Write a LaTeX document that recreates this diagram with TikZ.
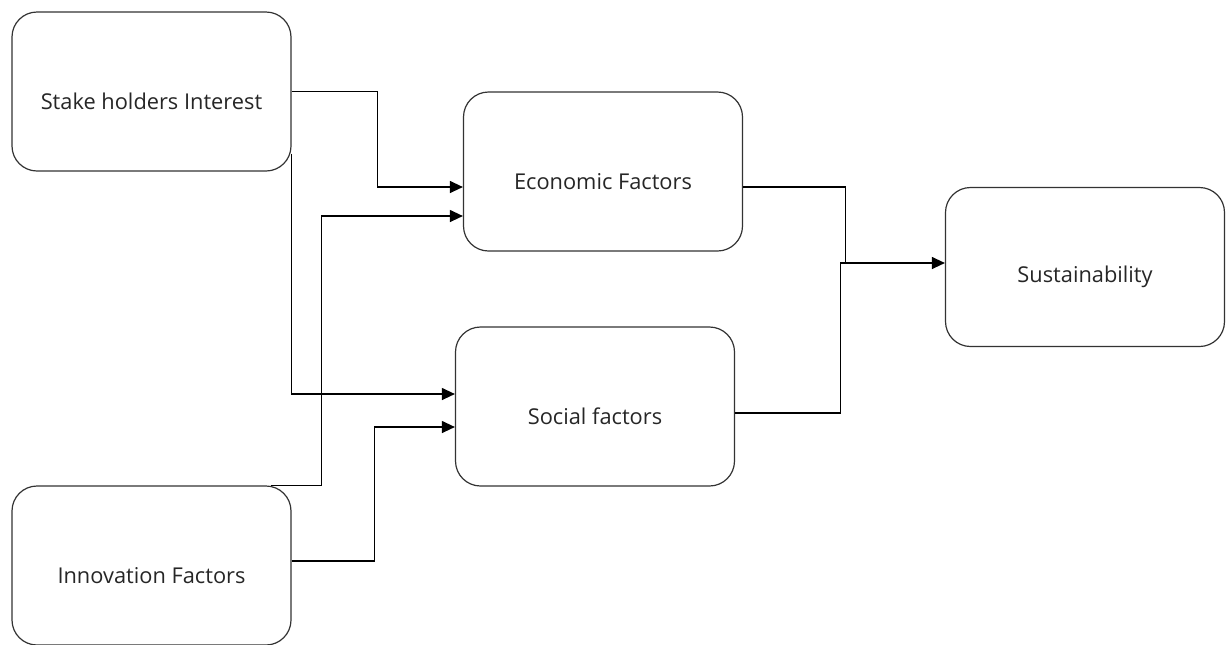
\documentclass[tikz,border=0pt]{standalone}
\usepackage{fontspec}
\setmainfont{Open Sans}
\usepackage{tikz}
\usetikzlibrary{arrows.meta,calc,positioning}
\tikzset{
  caja/.style={draw=black!80,line width=0.6pt,rounded corners=12.5pt,minimum width=139.5pt,minimum height=79.5pt},
  txt/.style={yshift=-5pt,text=black!85,font=\fontsize{10.9}{12}\selectfont},
  flecha/.style={line width=0.6pt,-{Triangle[length=6.5pt,width=6pt]}},
  linea/.style={line width=0.6pt}
}

\begin{document}
\begin{tikzpicture}[x=0.5pt,y=-0.5pt]
\useasboundingbox (0,0) rectangle (1230,644);
\node[caja,label={[txt]center:Stake holders Interest}] (stake) at (151.5,91.5) {};
\node[caja,label={[txt]center:Innovation Factors}] (innov) at (151.5,565.5) {};
\node[caja,label={[txt]center:Economic Factors}] (econ) at (603,171.5) {};
\node[caja,label={[txt]center:Social factors}] (social) at (595,406.5) {};
\node[caja,label={[txt]center:Sustainability}] (sust) at (1085,267) {};
\coordinate (e1) at ($(econ.west)+(0,15.5)$);
\coordinate (e2) at ($(econ.west)+(0,44.5)$);
\coordinate (s1) at ($(social.west)+(0,-12.5)$);
\coordinate (s2) at ($(social.west)+(0,20.5)$);
\coordinate (t1) at ($(sust.west)+(0,-4)$);
\draw[flecha] (stake.east) -- ++(86,0) |- (e1);
\draw[flecha] ($(stake.south east)+(0,-18)$) |- (s1);
\draw[flecha] ($(innov.north east)+(-21,0)$) -- ++(51,0) |- (e2);
\draw[flecha] ($(innov.east)+(0,-4.5)$) -- ++(83,0) |- (s2);
\draw[linea] ($(econ.east)+(0,15.5)$) -- ++(102,0) -- ++(0,76);
\draw[flecha] ($(social.east)+(0,6.5)$) -- ++(105,0) |- (t1);
\end{tikzpicture}
\end{document}
